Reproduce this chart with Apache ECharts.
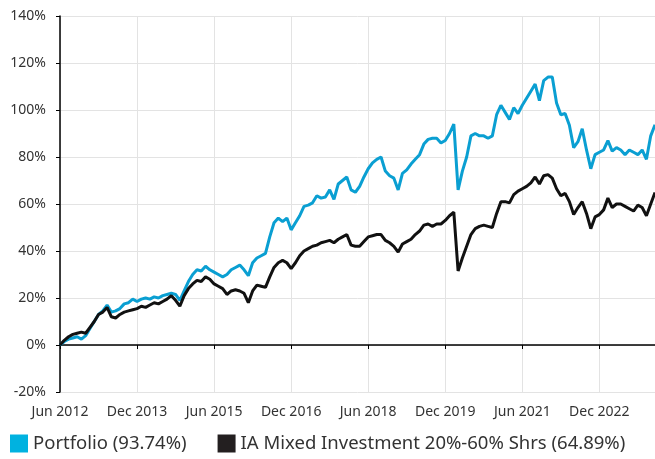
<!DOCTYPE html>
<html>
<head>
<meta charset="utf-8">
<script src="https://cdn.jsdelivr.net/npm/echarts@6/dist/echarts.min.js"></script>
<style>
html,body{margin:0;padding:0;background:#fff;}
#chart{width:655px;height:459px;}
</style>
</head>
<body>
<div id="chart"></div>
<script>
// Monthly categories: Jun 2012 .. Jan 2024
const monthNames = ['Jan','Feb','Mar','Apr','May','Jun','Jul','Aug','Sep','Oct','Nov','Dec'];
const startYear = 2012, startMonth = 5, monthCount = 140;
const categories = [];
for (let i = 0; i < monthCount; i++) {
  const m = (startMonth + i) % 12;
  const y = startYear + Math.floor((startMonth + i) / 12);
  categories.push(monthNames[m] + ' ' + y);
}
const tickLabels = ['Jun 2012','Dec 2013','Jun 2015','Dec 2016','Jun 2018','Dec 2019','Jun 2021','Dec 2022'];

const portfolioName = 'Portfolio (93.74%)';
const sectorName = 'IA Mixed Investment 20%-60% Shrs (64.89%)';

const portfolio = [
  0, 1.5, 2.5, 3, 3.5, 2.5, 4, 7, 10, 13,
  14.5, 17, 14, 14.5, 15.5, 17.5, 18, 19.5, 18.5, 19.5,
  20, 19.5, 20.5, 20, 21, 21.5, 22, 21.5, 19, 23,
  27, 30, 32, 31.5, 33.5, 32, 31, 30, 29, 30,
  32, 33, 34, 32, 29.5, 35, 37, 38, 39, 46,
  52, 54, 52.5, 54, 49, 52, 55, 59, 59.5, 60.5,
  63.5, 62.5, 63, 66, 62, 68.5, 70, 71.5, 66, 65,
  67.5, 71.5, 75, 77.5, 79, 80, 74, 72, 71, 66,
  73, 74.5, 77, 79, 81, 85.5, 87.5, 88, 88, 86,
  87, 90, 94, 66, 74, 80, 89, 90, 89, 89,
  88, 89, 98, 102, 99, 96, 101, 98.5, 102, 105,
  108, 111, 104, 112.5, 114, 114, 103, 98, 98.5, 93.5,
  84, 86.5, 92, 83, 75, 81, 82, 83, 87, 82.5,
  84, 83, 81, 83, 82, 81, 83, 79, 89, 93.74
];

const sector = [
  0, 2, 3.5, 4.5, 5, 5.5, 5, 7.5, 10, 13,
  14, 16, 12, 11.5, 13, 14, 14.5, 15, 15.5, 16.5,
  16, 17, 18, 17.5, 18.5, 19.5, 21, 19, 16.5, 21,
  24, 26, 27.5, 27, 29, 28, 26, 25, 24, 21.5,
  23, 23.5, 23, 22, 18, 23, 25.5, 25, 24.5, 29,
  33, 35, 36, 35, 32.5, 35, 38, 40, 41, 42,
  42.5, 43.5, 44, 44.5, 43.5, 45, 46, 47, 42.5, 42,
  42, 44, 46, 46.5, 47, 47, 44.5, 43.5, 42, 39.5,
  43, 44, 45, 47, 48.5, 51, 51.5, 50.5, 51.5, 51.5,
  53, 55, 56.5, 31.5, 37, 42, 47, 49.5, 50.5, 51,
  50.5, 50, 56, 61, 61, 60.5, 64, 65.5, 66.5, 67.5,
  69, 71.5, 68.5, 72, 72.5, 71, 66.5, 63.5, 64.5, 61,
  55.5, 58.5, 61, 56, 49.5, 54.5, 55.5, 57.5, 62.5, 58.5,
  60, 60, 59, 58, 57, 59.5, 58.5, 55, 60, 64.89
];

const labelEvery = 18;
const chart = echarts.init(document.getElementById('chart'), null, {renderer: 'canvas'});
const fontFamily = '"Noto Sans", "DejaVu Sans", sans-serif';
const showAt = (idx) => idx % labelEvery === 0;

chart.setOption({
  animation: false,
  grid: {left: 60, right: 0, top: 16, bottom: 67, containLabel: false},
  legend: {
    left: 5, bottom: 1,
    icon: 'rect', itemWidth: 18, itemHeight: 18, itemGap: 31,
    textStyle: {fontFamily: fontFamily, fontSize: 18.5, color: '#333'},
    data: [
      {name: portfolioName, itemStyle: {color: '#00b2e0'}},
      {name: sectorName, itemStyle: {color: '#231f20'}}
    ]
  },
  xAxis: [
    {
      type: 'category', data: categories, boundaryGap: false,
      axisLine: {show: true, onZero: true, lineStyle: {color: '#000', width: 1.5}},
      axisTick: {show: true, length: 4, interval: (i) => showAt(i), lineStyle: {color: '#000'}},
      axisLabel: {show: false},
      splitLine: {show: false}
    },
    {
      type: 'category', data: categories, boundaryGap: false, position: 'bottom',
      axisLine: {show: false, onZero: false},
      axisTick: {show: false},
      axisLabel: {
        interval: (i) => showAt(i), margin: 13,
        fontFamily: fontFamily, fontSize: 14, color: '#333',
        formatter: (v, i) => tickLabels[i / labelEvery] || ''
      },
      splitLine: {show: true, interval: (i) => showAt(i), lineStyle: {color: '#e3e3e3', width: 1}}
    }
  ],
  yAxis: {
    type: 'value', min: -20, max: 140, interval: 20,
    axisLine: {show: true, lineStyle: {color: '#000', width: 1.5}},
    axisTick: {show: true, length: 4, lineStyle: {color: '#000'}},
    axisLabel: {formatter: '{value}%', margin: 14, fontFamily: fontFamily, fontSize: 14, color: '#333'},
    splitLine: {show: true, lineStyle: {color: '#e3e3e3', width: 1}}
  },
  series: [
    {
      name: portfolioName, type: 'line', data: portfolio, xAxisIndex: 0,
      showSymbol: false, symbol: 'none', smooth: false,
      lineStyle: {color: '#0a9fd2', width: 3},
      itemStyle: {color: '#00b2e0'}
    },
    {
      name: sectorName, type: 'line', data: sector, xAxisIndex: 0,
      showSymbol: false, symbol: 'none', smooth: false,
      lineStyle: {color: '#111', width: 3},
      itemStyle: {color: '#231f20'}
    }
  ]
});
</script>
</body>
</html>
